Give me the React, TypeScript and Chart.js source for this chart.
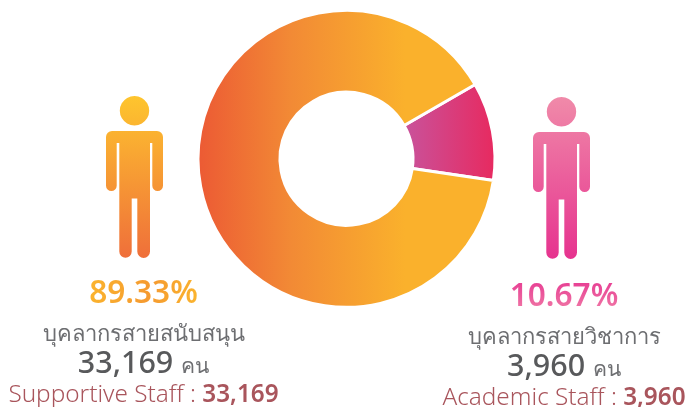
import React, { useEffect, useRef } from "react";
import { Chart, registerables } from "chart.js";

Chart.register(...registerables);

const categories = ["Academic Staff", "Supportive Staff"];
const staffCounts = [3960, 33169];
const percentLabels = ["10.67%", "89.33%"];
const thaiNames = ["บุคลากรสายวิชาการ", "บุคลากรสายสนับสนุน"];
const countLabels = ["3,960", "33,169"];
const unitLabel = "คน";

const FONT = '"Noto Sans", "Open Sans", Roboto, sans-serif';

function Person({ left, top, id, c1, c2 }: { left: number; top: number; id: string; c1: string; c2: string }) {
  return (
    <svg width={58} height={164} viewBox="0 0 58 164" style={{ position: "absolute", left, top }}>
      <defs>
        <linearGradient id={id} x1="0" y1="0" x2="0" y2="1">
          <stop offset="0" stopColor={c1} />
          <stop offset="1" stopColor={c2} />
        </linearGradient>
      </defs>
      <path
        fill={`url(#${id})`}
        d="M28.5 0 a14.7 14.7 0 1 1 -0.01 0 Z M6 35 H51 a6 6 0 0 1 6 6 V89.7 a5.35 5.35 0 0 1 -10.7 0 V47 H44 V155.6 a6.35 6.35 0 0 1 -12.7 0 V102.5 H25.7 V155.6 a6.2 6.2 0 0 1 -12.4 0 V47 H10.7 V89.7 a5.35 5.35 0 0 1 -10.7 0 V41 a6 6 0 0 1 6 -6 Z"
      />
    </svg>
  );
}

function Block({ cx, top, i, latin, grad }: { cx: number; top: number; i: number; latin: string; grad: string }) {
  const line: React.CSSProperties = { position: "absolute", left: cx - 170, width: 340, textAlign: "center", whiteSpace: "nowrap" };
  return (
    <>
      <div style={{ ...line, top, fontSize: 31.6, lineHeight: "40px", fontWeight: 600 }}>
        <span
          style={{
            display: "inline-block",
            color: "transparent",
            backgroundImage: grad,
            WebkitBackgroundClip: "text",
            backgroundClip: "text",
          }}
        >
          {percentLabels[i]}
        </span>
      </div>
      <div style={{ ...line, top: top + 46, fontSize: 22, lineHeight: "30px", color: "#6d6e71", fontWeight: 300 }}>{thaiNames[i]}</div>
      <div style={{ ...line, top: top + 73, fontSize: 30.5, lineHeight: "34px", color: "#58595b", fontWeight: 500 }}>
        {countLabels[i]} <span style={{ fontSize: 21, fontWeight: 300, color: "#6d6e71" }}>{unitLabel}</span>
      </div>
      <div style={{ ...line, top: top + 108, fontSize: 24.3, lineHeight: "28px", color: "#a9555c", fontWeight: 300 }}>
        {latin} : <span style={{ fontWeight: 600 }}>{countLabels[i]}</span>
      </div>
    </>
  );
}

export default function App() {
  const ref = useRef<HTMLCanvasElement>(null);
  useEffect(() => {
    document.body.style.margin = "0";
    const chart = new Chart(ref.current!, {
      type: "doughnut",
      data: {
        labels: categories,
        datasets: [
          {
            data: staffCounts,
            borderColor: "#ffffff",
            borderWidth: 3,
            backgroundColor: (c: any) => {
              const { chartArea, ctx } = c.chart;
              if (!chartArea) return "#f9b02d";
              if (c.dataIndex === 0) {
                const g = ctx.createLinearGradient(405, 0, 494, 0);
                g.addColorStop(0, "#c9529b");
                g.addColorStop(1, "#e72a60");
                return g;
              }
              const g = ctx.createLinearGradient(198, 0, 405, 0);
              g.addColorStop(0, "#ec5a34");
              g.addColorStop(0.45, "#f28a35");
              g.addColorStop(1, "#fab12c");
              return g;
            },
          },
        ],
      },
      options: {
        animation: false,
        responsive: false,
        rotation: 60,
        cutout: "44.8%",
        layout: { padding: { left: 196.5, right: 192.5, top: 8.8, bottom: 98.2 } },
        plugins: { legend: { display: false }, tooltip: { enabled: false } },
      },
    });
    return () => chart.destroy();
  }, []);

  return (
    <div style={{ position: "relative", width: 689, height: 407, overflow: "hidden", fontFamily: FONT, background: "#fff" }}>
      <canvas ref={ref} width={689} height={407} style={{ position: "absolute", left: 0, top: 0 }} />
      <Person left={106} top={96} id="pa" c1="#fec52e" c2="#ef6f3a" />
      <Person left={533} top={97} id="pb" c1="#f08aa9" c2="#e6338f" />
      <Block cx={143.5} top={271} i={1} latin="Supportive Staff" grad="linear-gradient(100deg,#fbb52e,#f59a30 55%,#fbb52e)" />
      <Block cx={564} top={274} i={0} latin="Academic Staff" grad="linear-gradient(0deg,#f17fa8,#e5308f)" />
    </div>
  );
}
